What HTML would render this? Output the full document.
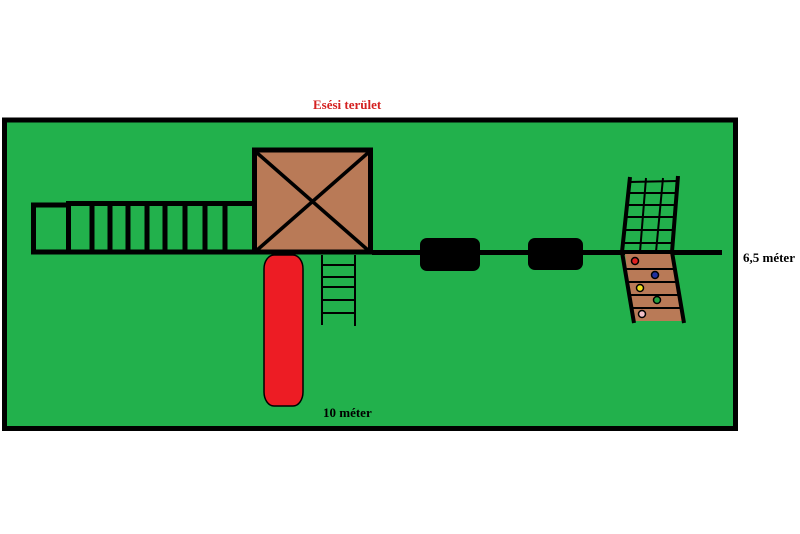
<!DOCTYPE html>
<html><head><meta charset="utf-8"><style>html,body{margin:0;padding:0;background:#fff;width:800px;height:534px;overflow:hidden}</style></head>
<body>
<svg width="800" height="534" xmlns="http://www.w3.org/2000/svg">
<rect x="0" y="0" width="800" height="534" fill="#fff"/>
<text x="313" y="109" font-family="Liberation Serif, serif" font-weight="bold" font-size="13" fill="#d42020">Esési terület</text>
<rect x="4.5" y="120" width="731" height="308.5" fill="#22b14c" stroke="#000" stroke-width="5"/>
<g stroke="#000" stroke-width="5" fill="none">
<rect x="33.5" y="205" width="35" height="47"/>
<line x1="66" y1="203.5" x2="252" y2="203.5"/>
<line x1="31" y1="252" x2="252" y2="252"/>
<line x1="92" y1="203" x2="92" y2="252"/>
<line x1="110" y1="203" x2="110" y2="252"/>
<line x1="128" y1="203" x2="128" y2="252"/>
<line x1="147" y1="203" x2="147" y2="252"/>
<line x1="165" y1="203" x2="165" y2="252"/>
<line x1="185" y1="203" x2="185" y2="252"/>
<line x1="205" y1="203" x2="205" y2="252"/>
<line x1="225" y1="203" x2="225" y2="252"/>
</g>
<rect x="372" y="250" width="350" height="5" fill="#000"/>
<rect x="254.5" y="150" width="116" height="102" fill="#b97a57" stroke="#000" stroke-width="5"/>
<line x1="256" y1="152" x2="369" y2="251" stroke="#000" stroke-width="3.5"/>
<line x1="369" y1="152" x2="256" y2="251" stroke="#000" stroke-width="3.5"/>
<rect x="264" y="255" width="39" height="151" rx="10" ry="14" fill="#ed1c24" stroke="#000" stroke-width="1.5"/>
<g stroke="#000" stroke-width="2">
<line x1="322" y1="255" x2="322" y2="325"/>
<line x1="355" y1="255" x2="355" y2="326"/>
<line x1="322" y1="265" x2="355" y2="265"/>
<line x1="322" y1="277" x2="355" y2="277"/>
<line x1="322" y1="287" x2="355" y2="287"/>
<line x1="322" y1="300" x2="355" y2="300"/>
<line x1="322" y1="313" x2="355" y2="313"/>
</g>
<rect x="420" y="238" width="60" height="33" rx="7" fill="#000"/>
<rect x="528" y="238" width="55" height="32" rx="7" fill="#000"/>
<polygon points="625,254 672,254 682,321 633,321" fill="#b97a57"/>
<g stroke="#000" stroke-width="2" fill="none">
<line x1="626" y1="269" x2="675" y2="269"/>
<line x1="628" y1="282" x2="677" y2="282"/>
<line x1="630" y1="295" x2="679" y2="295"/>
<line x1="631" y1="308" x2="681" y2="308"/>
<line x1="629" y1="182" x2="677" y2="181"/>
<line x1="628" y1="193" x2="676" y2="193"/>
<line x1="627" y1="205" x2="675" y2="205"/>
<line x1="626" y1="217" x2="675" y2="217"/>
<line x1="625" y1="230" x2="674" y2="230"/>
<line x1="624" y1="243" x2="673" y2="243"/>
<line x1="646" y1="178" x2="640" y2="252"/>
<line x1="663" y1="178" x2="656" y2="252"/>
</g>
<g stroke="#000" stroke-width="4" fill="none">
<polyline points="630,177 622,252 634,323"/>
<polyline points="678,176 672,252 684,323"/>
</g>
<g stroke="#000" stroke-width="1.5">
<circle cx="635" cy="261" r="3.5" fill="#e02020"/>
<circle cx="655" cy="275" r="3.5" fill="#2030a0"/>
<circle cx="640" cy="288" r="3.5" fill="#f0e020"/>
<circle cx="657" cy="300" r="3.5" fill="#20a040"/>
<circle cx="642" cy="314" r="3.5" fill="#f0c0c8"/>
</g>
<text x="743" y="262" font-family="Liberation Serif, serif" font-weight="bold" font-size="13" fill="#000">6,5 méter</text>
<text x="323" y="417" font-family="Liberation Serif, serif" font-weight="bold" font-size="13" fill="#000">10 méter</text>
</svg>
</body></html>
